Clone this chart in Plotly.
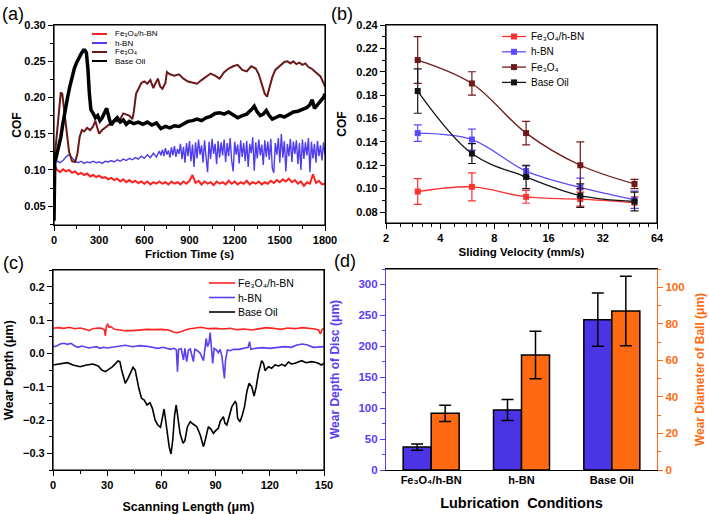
import math
import plotly.graph_objects as go

FONT = "Liberation Sans, Arial, sans-serif"
W, H = 709, 514

# ---------------- Panel (a): COF vs friction time ----------------
a_names = ["Fe₃O₄/h-BN", "h-BN", "Fe₃O₄", "Base Oil"]
a_colors = ["#ff2020", "#4f3cf0", "#6b1818", "#000000"]

t_fehbn = list(range(0, 1801, 20))
cof_fehbn = [
    0.108, 0.100, 0.097, 0.101, 0.098, 0.100, 0.096, 0.098, 0.094, 0.096,
    0.093, 0.095, 0.091, 0.093, 0.090, 0.092, 0.089, 0.090, 0.087, 0.089,
    0.086, 0.088, 0.084, 0.087, 0.083, 0.086, 0.083, 0.085, 0.082, 0.084,
    0.081, 0.084, 0.080, 0.083, 0.081, 0.084, 0.081, 0.083, 0.080, 0.084,
    0.081, 0.083, 0.080, 0.084, 0.081, 0.085, 0.093, 0.082, 0.085, 0.080,
    0.084, 0.081, 0.083, 0.079, 0.084, 0.081, 0.083, 0.080, 0.085, 0.081,
    0.084, 0.080, 0.083, 0.081, 0.085, 0.080, 0.083, 0.081, 0.084, 0.080,
    0.083, 0.081, 0.085, 0.082, 0.086, 0.083, 0.087, 0.084, 0.088, 0.083,
    0.086, 0.081, 0.084, 0.078, 0.083, 0.081, 0.094, 0.082, 0.085, 0.080,
    0.081,
]

t_hbn = list(range(0, 701, 20)) + list(range(710, 1801, 10))
cof_hbn = [
    0.125, 0.112, 0.110, 0.113, 0.118, 0.121, 0.117, 0.112, 0.110, 0.112,
    0.109, 0.111, 0.110, 0.112, 0.110, 0.111, 0.109, 0.112, 0.111, 0.113,
    0.111, 0.114, 0.112, 0.115, 0.113, 0.116, 0.114, 0.117, 0.115, 0.119,
    0.116, 0.121, 0.117, 0.123, 0.118, 0.126,
    0.120, 0.128, 0.119, 0.130, 0.121, 0.127, 0.117, 0.131, 0.120, 0.133,
    0.118, 0.129, 0.122, 0.136, 0.115, 0.132, 0.110, 0.137, 0.119, 0.140,
    0.112, 0.135, 0.104, 0.138, 0.116, 0.142, 0.121, 0.134, 0.110, 0.141,
    0.118, 0.097, 0.139, 0.115, 0.143, 0.122, 0.136, 0.108, 0.140, 0.117,
    0.138, 0.120, 0.142, 0.111, 0.137, 0.119, 0.144, 0.113, 0.098, 0.139,
    0.121, 0.135, 0.109, 0.141, 0.118, 0.137, 0.112, 0.140, 0.104, 0.136,
    0.123, 0.145, 0.099, 0.138, 0.116, 0.142, 0.120, 0.135, 0.107, 0.141,
    0.118, 0.139, 0.114, 0.143, 0.102, 0.096, 0.137, 0.121, 0.144, 0.110,
    0.150, 0.117, 0.140, 0.098, 0.136, 0.119, 0.143, 0.111, 0.139, 0.122,
    0.141, 0.108, 0.137, 0.100, 0.142, 0.115, 0.138, 0.120, 0.144, 0.097,
    0.139, 0.116, 0.136, 0.110, 0.140, 0.119, 0.134, 0.113, 0.138, 0.121,
]

t_fe = [
    0, 5, 15, 30, 45, 55, 70, 85, 100, 120,
    140, 155, 170, 185, 200, 220, 240, 260, 275, 285,
    300, 320, 340, 360, 380, 400, 420, 440, 460, 480,
    500, 520, 530, 545, 560, 580, 600, 620, 640, 660,
    670, 690, 705, 720, 740, 750, 770, 800, 830, 860,
    890, 920, 950, 980, 1010, 1040, 1070, 1100, 1130, 1160,
    1190, 1220, 1250, 1280, 1310, 1340, 1360, 1380, 1400, 1415,
    1430, 1450, 1470, 1490, 1510, 1530, 1550, 1570, 1590, 1610,
    1630, 1650, 1670, 1690, 1710, 1730, 1750, 1770, 1790, 1800,
]
cof_fe = [
    0.030, 0.120, 0.140, 0.175, 0.207, 0.205, 0.175, 0.150, 0.125, 0.112,
    0.111, 0.122, 0.145, 0.155, 0.153, 0.158, 0.155, 0.160, 0.168, 0.160,
    0.150, 0.155, 0.158, 0.162, 0.165, 0.168, 0.167, 0.170, 0.178, 0.177,
    0.175, 0.170, 0.180, 0.205, 0.212, 0.220, 0.222, 0.219, 0.224, 0.213,
    0.218, 0.226, 0.215, 0.212, 0.220, 0.235, 0.232, 0.230, 0.232, 0.226,
    0.222, 0.221, 0.219, 0.224, 0.228, 0.233, 0.230, 0.226, 0.235, 0.240,
    0.243, 0.245, 0.238, 0.236, 0.243, 0.240, 0.232, 0.220, 0.205, 0.201,
    0.212, 0.228, 0.238, 0.242, 0.245, 0.249, 0.250, 0.247, 0.250, 0.246,
    0.248, 0.245, 0.247, 0.242, 0.240, 0.236, 0.232, 0.229, 0.220, 0.215,
]

t_oil = [
    0, 5, 15, 30, 45, 60, 75, 90, 105, 120,
    135, 150, 165, 180, 195, 205, 215, 225, 235, 245,
    260, 275, 290, 305, 320, 335, 350, 365, 380, 400,
    420, 440, 460, 480, 500, 530, 560, 590, 620, 650,
    680, 710, 740, 770, 800, 830, 860, 890, 920, 950,
    980, 1010, 1040, 1070, 1100, 1130, 1160, 1190, 1220, 1250,
    1280, 1310, 1330, 1350, 1370, 1390, 1410, 1430, 1450, 1470,
    1500, 1530, 1560, 1590, 1620, 1650, 1680, 1700, 1715, 1730,
    1750, 1770, 1790, 1800,
]
cof_oil = [
    0.030, 0.110, 0.118, 0.130, 0.145, 0.165, 0.185, 0.200, 0.215, 0.228,
    0.240, 0.248, 0.255, 0.260, 0.265, 0.265, 0.262, 0.240, 0.205, 0.183,
    0.178, 0.172, 0.175, 0.168, 0.172, 0.180, 0.185, 0.172, 0.162, 0.168,
    0.172, 0.166, 0.169, 0.163, 0.167, 0.164, 0.166, 0.163, 0.166, 0.162,
    0.165, 0.157, 0.160, 0.158, 0.161, 0.160, 0.163, 0.167, 0.168, 0.170,
    0.168, 0.172, 0.174, 0.178, 0.179, 0.177, 0.180, 0.176, 0.172, 0.175,
    0.177, 0.183, 0.188, 0.180, 0.175, 0.177, 0.182, 0.175, 0.170, 0.172,
    0.175, 0.173, 0.177, 0.180, 0.181, 0.183, 0.186, 0.190, 0.197, 0.185,
    0.190, 0.195, 0.200, 0.205,
]

# ---------------- Panel (b): COF vs sliding velocity ----------------
b_names = ["Fe₃O₄/h-BN", "h-BN", "Fe₃O₄", "Base Oil"]
b_colors = ["#ff3030", "#5a4bff", "#6e1a1a", "#141414"]
velocity = [3, 6, 12, 24, 48]
b_fehbn = [0.0975, 0.1015, 0.093, 0.091, 0.088]
b_fehbn_err = [0.011, 0.012, 0.0055, 0.006, 0.005]
b_hbn = [0.1475, 0.142, 0.115, 0.101, 0.0905]
b_hbn_err = [0.007, 0.009, 0.0045, 0.008, 0.0074]
b_fe = [0.210, 0.190, 0.1475, 0.120, 0.104]
b_fe_err = [0.020, 0.010, 0.010, 0.020, 0.004]
b_oil = [0.1835, 0.130, 0.110, 0.094, 0.089]
b_oil_err = [0.019, 0.0085, 0.010, 0.010, 0.008]
b_x_ticks = [2, 4, 8, 16, 32, 64]

# ---------------- Panel (c): wear profile ----------------
c_names = ["Fe₃O₄/h-BN", "h-BN", "Base Oil"]
c_colors = ["#ff2020", "#5b3ff0", "#000000"]
len_fehbn = [0, 3, 6, 9, 12, 15, 18, 20, 22, 25, 27, 28.5, 29, 29.5, 30.3, 31, 32, 34, 37, 40,
             44, 48, 52, 56, 60, 64, 67, 69, 72, 75, 78, 82, 86, 90, 94, 98, 102, 106, 110, 114,
             118, 122, 126, 130, 134, 138, 142, 145, 147, 148, 149, 150]
dep_fehbn = [0.075, 0.077, 0.075, 0.078, 0.074, 0.076, 0.072, 0.068, 0.074, 0.076, 0.075, 0.070,
             0.052, 0.082, 0.087, 0.078, 0.080, 0.072, 0.070, 0.068, 0.068, 0.070, 0.072, 0.071,
             0.072, 0.070, 0.063, 0.062, 0.068, 0.073, 0.075, 0.078, 0.074, 0.075, 0.073, 0.075,
             0.071, 0.073, 0.070, 0.074, 0.077, 0.075, 0.072, 0.076, 0.074, 0.077, 0.075, 0.073,
             0.070, 0.058, 0.072, 0.075]
len_hbn = [0, 2, 4, 6, 8, 10, 12, 14, 16, 18, 20, 22, 24, 26, 28, 30, 33, 36, 40, 44,
           48, 52, 55, 58, 61, 63, 65, 67, 68.3, 68.9, 69.5, 71, 72.2, 73, 74, 75, 76, 77.7, 78.5, 80,
           81.5, 83.3, 84, 84.8, 85.5, 86.3, 87, 87.6, 88.4, 89.2, 90.5, 91.5, 92.5, 93.5, 94.3, 94.9,
           95.5, 96.5, 98, 100, 103, 106, 108, 108.8, 109.5, 112, 116, 120, 124, 128, 132, 135, 138,
           141, 144, 147, 150]
dep_hbn = [0.020, 0.022, 0.028, 0.030, 0.027, 0.030, 0.022, 0.018, 0.022, 0.020, 0.016, 0.018,
           0.020, 0.015, 0.018, 0.016, 0.019, 0.022, 0.024, 0.020, 0.023, 0.021, 0.017, 0.015,
           0.018, 0.016, 0.012, 0.015, 0.010, -0.055, 0.012, 0.014, -0.020, 0.015, -0.025, 0.010,
           0.013, -0.025, 0.012, 0.008, 0.000, -0.022, 0.010, 0.045, 0.020, 0.030, 0.062, 0.015,
           -0.030, 0.015, 0.010, 0.002, 0.012, -0.010, -0.045, -0.075, -0.020, 0.010, 0.008, 0.012,
           0.012, 0.015, 0.018, 0.035, 0.012, 0.015, 0.017, 0.015, 0.018, 0.020, 0.018, 0.025,
           0.028, 0.025, 0.018, 0.020, 0.020]
len_oil = [0, 3, 6, 8, 11, 15, 18, 22, 25, 27, 29, 31, 33, 36, 37, 38, 40, 41.5, 43, 44.3,
           45.5, 46.5, 47.5, 49, 50.5, 52, 53.7, 55, 56.5, 58, 59.5, 61.5, 63, 64.3, 65.3, 66.3,
           67.3, 68.2, 69.2, 70.3, 72, 73, 74.4, 76, 77.5, 79.6, 81.5, 83.3, 84.5, 86, 87.5, 88.8,
           90, 91.5, 92.5, 94.3, 95.2, 96.2, 97.5, 99, 100.8, 101.5, 102.2, 103.5, 104.8, 106,
           107.3, 108.5, 110, 111.3, 112.5, 113.7, 115.5, 116.5, 117.4, 119.2, 121, 122.9, 125,
           126.6, 128.5, 130.3, 132, 134, 136, 137.7, 140, 143.2, 145, 146.9, 148.5, 150]
dep_oil = [-0.035, -0.032, -0.030, -0.028, -0.035, -0.040, -0.036, -0.032, -0.038, -0.050,
           -0.055, -0.048, -0.040, -0.023, -0.025, -0.050, -0.090, -0.075, -0.055, -0.042,
           -0.050, -0.080, -0.105, -0.135, -0.140, -0.155, -0.148, -0.165, -0.200, -0.215,
           -0.222, -0.167, -0.230, -0.280, -0.302, -0.260, -0.185, -0.155, -0.195, -0.240,
           -0.270, -0.262, -0.220, -0.205, -0.212, -0.220, -0.245, -0.280, -0.255, -0.220,
           -0.228, -0.240, -0.232, -0.225, -0.205, -0.190, -0.210, -0.215, -0.190, -0.160,
           -0.145, -0.150, -0.195, -0.205, -0.185, -0.160, -0.115, -0.090, -0.100, -0.128,
           -0.100, -0.060, -0.022, -0.030, -0.052, -0.040, -0.045, -0.035, -0.038, -0.033,
           -0.038, -0.026, -0.032, -0.030, -0.025, -0.022, -0.028, -0.025, -0.027, -0.030,
           -0.035, -0.030]

# ---------------- Panel (d): wear ----------------
d_conditions = ["Fe₃O₄/h-BN", "h-BN", "Base Oil"]
disc_depth = [37, 97, 243]
disc_depth_err = [5, 17, 43]
ball_diam = [31, 63, 87]
ball_diam_err = [4.5, 13, 19]
d_blue = "#4b34e6"
d_orange = "#ff6a10"
d_axis_blue = "#5a3cf5"


def xd(px):
    return px / W


def yd(px):
    return 1 - px / H


fig = go.Figure()

# (a)
for tt, vv, nm, col, lw in zip([t_fehbn, t_hbn, t_fe, t_oil],
                               [cof_fehbn, cof_hbn, cof_fe, cof_oil],
                               a_names, a_colors, [2, 1.4, 2, 3.5]):
    fig.add_trace(go.Scatter(x=tt, y=vv, name=nm, mode="lines",
                             line=dict(color=col, width=lw),
                             xaxis="x", yaxis="y", showlegend=False))

# (b)
for vv, ee, nm, col in zip([b_fehbn, b_hbn, b_fe, b_oil],
                           [b_fehbn_err, b_hbn_err, b_fe_err, b_oil_err],
                           b_names, b_colors):
    fig.add_trace(go.Scatter(x=velocity, y=vv, name=nm, mode="lines+markers",
                             line=dict(color=col, width=1.3, shape="spline", smoothing=1.0),
                             marker=dict(symbol="square", size=6, color=col),
                             error_y=dict(type="data", array=ee, color=col, thickness=1.2, width=4),
                             xaxis="x2", yaxis="y2", showlegend=False))

# (c)
for ll, vv, nm, col in zip([len_fehbn, len_hbn, len_oil],
                           [dep_fehbn, dep_hbn, dep_oil], c_names, c_colors):
    fig.add_trace(go.Scatter(x=ll, y=vv, name=nm, mode="lines",
                             line=dict(color=col, width=1.6),
                             xaxis="x3", yaxis="y3", showlegend=False))

# (d)
fig.add_trace(go.Bar(x=d_conditions, y=disc_depth, name="Wear Depth of Disc",
                     marker=dict(color=d_blue, line=dict(color="black", width=1.5)),
                     width=0.31, offset=-0.31,
                     error_y=dict(type="data", array=disc_depth_err, color="black", thickness=1.5, width=6),
                     xaxis="x4", yaxis="y4", showlegend=False))
fig.add_trace(go.Bar(x=d_conditions, y=ball_diam, name="Wear Diameter of Ball",
                     marker=dict(color=d_orange, line=dict(color="black", width=1.5)),
                     width=0.31, offset=0.0,
                     error_y=dict(type="data", array=ball_diam_err, color="black", thickness=1.5, width=6),
                     xaxis="x4", yaxis="y5", showlegend=False))

tick_font = dict(family=FONT, size=11, color="black", weight="bold")
title_font = dict(family=FONT, size=12, color="black", weight="bold")


def ax(**kw):
    base = dict(showline=True, linecolor="black", linewidth=1.2, mirror=True,
                ticks="outside", ticklen=5, tickwidth=1.2, tickcolor="black",
                showgrid=False, zeroline=False, tickfont=tick_font, automargin=False)
    base.update(kw)
    return base


minor_b = [m * k for m in [2, 4, 8, 16, 32] for k in (1.2, 1.4, 1.6, 1.8)]

fig.update_layout(
    template="none",
    width=W, height=H, margin=dict(l=0, r=0, t=0, b=0, pad=0), autosize=False,
    paper_bgcolor="white", plot_bgcolor="white",
    font=dict(family=FONT, color="black", size=11),
    barmode="overlay", showlegend=False,
    xaxis=ax(domain=[xd(54), xd(325)], anchor="y", range=[0, 1800], tick0=0, dtick=300,
             minor=dict(ticks="outside", dtick=150, ticklen=2.5, tickcolor="black"),
             title=dict(text="Friction Time (s)", font=dict(family=FONT, size=11.5, weight="bold"), standoff=4)),
    yaxis=ax(domain=[yd(225), yd(25)], anchor="x", range=[0.024, 0.30], tick0=0, dtick=0.05,
             tickformat=".2f",
             minor=dict(ticks="outside", dtick=0.025, ticklen=2.5, tickcolor="black"),
             title=dict(text="COF", font=title_font, standoff=0)),
    xaxis2=ax(domain=[xd(386), xd(657)], anchor="y2", type="log",
              range=[math.log10(2), math.log10(64)], tickmode="array",
              tickvals=b_x_ticks, ticktext=[str(v) for v in b_x_ticks],
              minor=dict(ticks="outside", tickmode="array", tickvals=minor_b, ticklen=2.5, tickcolor="black"),
              title=dict(text="Sliding Velocity (mm/s)", font=dict(family=FONT, size=11.5, weight="bold"), standoff=4)),
    yaxis2=ax(domain=[yd(223), yd(25)], anchor="x2", range=[0.0706, 0.24], tick0=0, dtick=0.02,
              tickformat=".2f",
              minor=dict(ticks="outside", dtick=0.01, ticklen=2.5, tickcolor="black"),
              title=dict(text="COF", font=title_font, standoff=7)),
    xaxis3=ax(domain=[xd(53), xd(324)], anchor="y3", range=[0, 150], tick0=0, dtick=30,
              minor=dict(ticks="outside", dtick=15, ticklen=2.5, tickcolor="black"),
              title=dict(text="Scanning Length (μm)", font=dict(family=FONT, size=12.5, weight="bold"), standoff=11)),
    yaxis3=ax(domain=[yd(470), yd(270)], anchor="x3", range=[-0.35, 0.25], tick0=0, dtick=0.1,
              tickformat=".1f",
              minor=dict(ticks="outside", dtick=0.05, ticklen=2.5, tickcolor="black"),
              title=dict(text="Wear Depth (μm)", font=dict(family=FONT, size=12.5, weight="bold"), standoff=6)),
    xaxis4=ax(domain=[xd(386), xd(657)], anchor="y4", type="category", range=[-0.5, 2.5], ticks="",
              title=dict(text="Lubrication  Conditions", font=dict(family=FONT, size=14.5, weight="bold"), standoff=12)),
    yaxis4=ax(domain=[yd(470), yd(269)], anchor="x4", range=[0, 325], tick0=0, dtick=50, mirror=False,
              linecolor=d_axis_blue, tickcolor=d_axis_blue,
              tickfont=dict(family=FONT, size=11.5, color=d_axis_blue, weight="bold"),
              minor=dict(ticks="outside", dtick=25, ticklen=2.5, tickcolor=d_axis_blue),
              title=dict(text="Wear Depth of Disc (μm)",
                         font=dict(family=FONT, size=12, color=d_axis_blue, weight="bold"), standoff=16)),
    yaxis5=ax(overlaying="y4", anchor="x4", side="right", range=[0, 110], tick0=0, dtick=20, mirror=False,
              linecolor=d_orange, tickcolor=d_orange,
              tickfont=dict(family=FONT, size=11.5, color=d_orange, weight="bold"),
              minor=dict(ticks="outside", dtick=10, ticklen=2.5, tickcolor=d_orange),
              title=dict(text="Wear Diameter of Ball (μm)",
                         font=dict(family=FONT, size=12, color=d_orange, weight="bold"), standoff=12)),
)

shapes = []
annotations = []

# frames around panels (a), (b), (c) and top edge of (d)
for xr, yr in [("x", "y"), ("x2", "y2"), ("x3", "y3")]:
    shapes.append(dict(type="rect", xref=xr + " domain", yref=yr + " domain",
                       x0=0, x1=1, y0=0, y1=1, line=dict(color="black", width=1.2), layer="above"))
shapes.append(dict(type="line", xref="x4 domain", yref="y4 domain",
                   x0=0, x1=1, y0=1, y1=1, line=dict(color="black", width=1.2), layer="above"))

# panel letters
for txt, px, py in [("(a)", 0, 14), ("(b)", 329, 14), ("(c)", 1, 263), ("(d)", 332, 261)]:
    annotations.append(dict(text=txt, x=xd(px), y=yd(py), xref="paper", yref="paper",
                            xanchor="left", yanchor="middle", showarrow=False,
                            font=dict(family=FONT, size=18, color="black")))


def add_legend(names, colors, x0, x1, xt, y0, dy, size, marker=False, lw=2):
    for i, (nm, col) in enumerate(zip(names, colors)):
        yy = y0 + dy * i
        shapes.append(dict(type="line", xref="paper", yref="paper",
                           x0=xd(x0), x1=xd(x1), y0=yd(yy), y1=yd(yy),
                           line=dict(color=col, width=lw)))
        if marker:
            xm = (x0 + x1) / 2
            shapes.append(dict(type="rect", xref="paper", yref="paper",
                               x0=xd(xm - 3), x1=xd(xm + 3), y0=yd(yy + 3), y1=yd(yy - 3),
                               fillcolor=col, line=dict(width=0)))
        annotations.append(dict(text=nm, x=xd(xt), y=yd(yy), xref="paper", yref="paper",
                                xanchor="left", yanchor="middle", showarrow=False,
                                font=dict(family=FONT, size=size, color="black")))


add_legend(a_names, a_colors, 92, 107, 113, 34, 9, 8, lw=2)
add_legend(b_names, b_colors, 502, 526, 529, 36.5, 15.3, 10, marker=True, lw=1.3)
add_legend(c_names, c_colors, 209, 235, 236, 283, 14.5, 10.5, lw=1.6)

fig.update_layout(shapes=shapes, annotations=annotations)

fig.write_html("out.html",
               config={"displayModeBar": False},
               post_script="document.body.style.margin='0px';document.body.style.overflow='hidden';")
